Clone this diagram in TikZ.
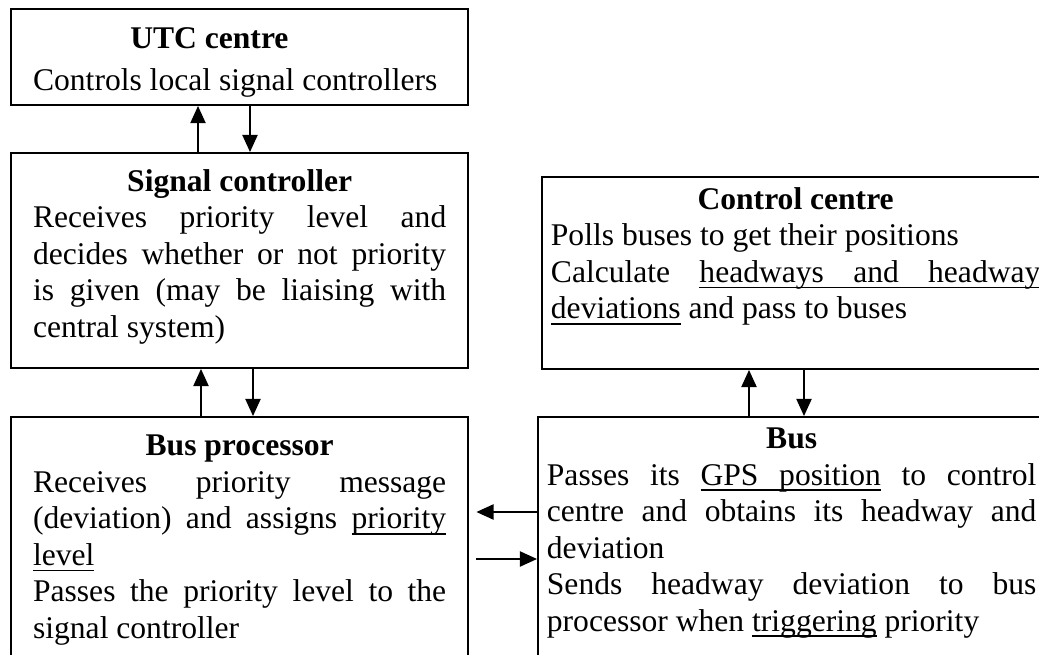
\documentclass[tikz,border=0pt]{standalone}
\usepackage{fontspec}
\setmainfont{Liberation Serif}
\usetikzlibrary{arrows.meta}
\newcommand{\unittitle}[1]{{\centering\bfseries #1\par}}
% body of a unit: height, space above, text
\newcommand{\unitbody}[3]{\vbox to #1{\parindent=0pt\leftskip=0pt\rightskip=0pt
  \spaceskip=0pt\xspaceskip=0pt\parfillskip=0pt plus 1fil\vskip #2 #3\vfil}}
% underlined word and underlined (stretchable) space
\newcommand{\ulw}[1]{{\setbox0\hbox{#1}\rlap{\vrule height -1.6pt depth 2.2pt width\wd0}\box0}}
\newcommand{\ulsp}{\leaders\hrule height -1.6pt depth 2.2pt\hskip\fontdimen2\font plus\fontdimen3\font minus\fontdimen4\font\relax}
\begin{document}
\begin{tikzpicture}[x=0.38pt,y=-0.38pt,
  unit/.style={draw,line width=0.75pt,anchor=north west,inner ysep=0pt,
    font=\fontsize{12pt}{13.87pt}\selectfont},
  left unit/.style={unit,text width=157pt,inner xsep=8.4pt},
  right unit/.style={unit,text width=186pt,inner xsep=3.4pt},
  link/.style={-{Triangle[length=6.5pt,width=5.8pt]},line width=0.5pt}]
\useasboundingbox (0,0) rectangle (1039,655);
\clip (0,0) rectangle (1039,655);
% the five units
\node[left unit] (utc) at (10,8) {\unitbody{36.5pt}{6.9pt}{%
  \unittitle{UTC centre\hspace*{23pt}}\vskip 2.3pt
  Controls local signal controllers}};
\node[left unit] (sigctrl) at (10,152) {\unitbody{81.7pt}{6.3pt}{%
  \unittitle{Signal controller}
  Receives priority level and\linebreak decides whether or not priority\linebreak
  is given (may be liaising with\linebreak central system)}};
\node[right unit] (ctrl) at (541,176) {\unitbody{72.96pt}{4pt}{%
  \unittitle{Control centre}
  Polls buses to get their positions\par
  Calculate \ulw{headways}\ulsp\ulw{and}\ulsp\ulw{headway}\linebreak
  \ulw{deviations} and pass to buses}};
\node[left unit] (busproc) at (10,416) {\unitbody{108pt}{6.9pt}{%
  \unittitle{Bus processor}
  Receives priority message\linebreak (deviation) and assigns \ulw{priority}\linebreak
  \ulw{level}\par
  Passes the priority level to the\linebreak signal controller}};
\node[right unit] (bus) at (537,416) {\unitbody{108pt}{4.2pt}{%
  \unittitle{Bus}
  Passes its \ulw{GPS}\ulsp\ulw{position} to control\linebreak centre and obtains its headway and\linebreak
  deviation\par
  Sends headway deviation to bus\linebreak processor when \ulw{triggering} priority}};
% arrows between the units
\draw[link] (198,0 |- sigctrl.north) -- (198,0 |- utc.south);
\draw[link] (250,0 |- utc.south) -- (250,0 |- sigctrl.north);
\draw[link] (201,0 |- busproc.north) -- (201,0 |- sigctrl.south);
\draw[link] (253,0 |- sigctrl.south) -- (253,0 |- busproc.north);
\draw[link] (749,0 |- bus.north) -- (749,0 |- ctrl.south);
\draw[link] (804,0 |- ctrl.south) -- (804,0 |- bus.north);
\draw[link,shorten >=2.7pt] (bus.west |- 0,512) -- (busproc.east |- 0,512);
\draw[link,shorten <=2.7pt] (busproc.east |- 0,559) -- (bus.west |- 0,559);
\end{tikzpicture}
\end{document}
